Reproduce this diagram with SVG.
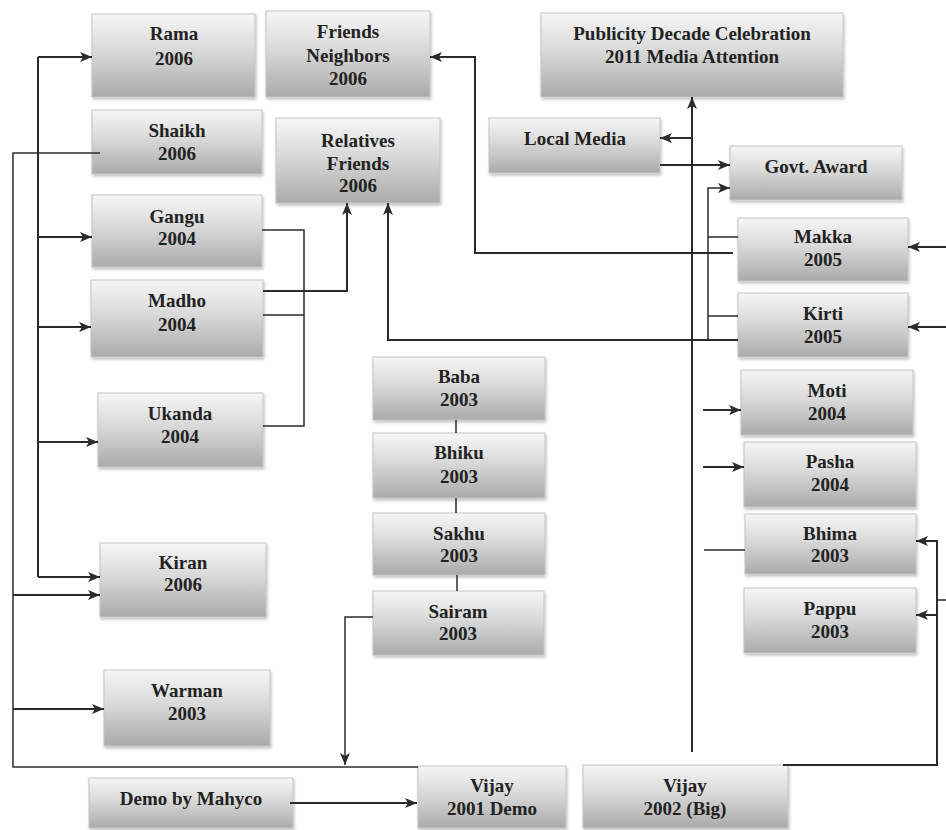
<svg xmlns="http://www.w3.org/2000/svg" width="946" height="830" viewBox="0 0 946 830">
<defs>
<linearGradient id="g" x1="0" y1="0" x2="0" y2="1">
<stop offset="0" stop-color="#f6f6f6"/>
<stop offset="0.45" stop-color="#d9d9d9"/>
<stop offset="1" stop-color="#aaaaaa"/>
</linearGradient>
<filter id="sh" x="-10%" y="-10%" width="120%" height="130%">
<feGaussianBlur in="SourceAlpha" stdDeviation="1.5"/>
<feOffset dx="1" dy="2" result="b"/>
<feComponentTransfer><feFuncA type="linear" slope="0.25"/></feComponentTransfer>
<feMerge><feMergeNode/><feMergeNode in="SourceGraphic"/></feMerge>
</filter>
<marker id="ah" markerUnits="userSpaceOnUse" markerWidth="12" markerHeight="10" refX="12" refY="5" orient="auto">
<path d="M0,0 L12,5 L0,10 L3,5 z" fill="#2b2b2b"/>
</marker>
</defs>
<style>
.n rect{fill:url(#g);stroke:#c4c4c4;stroke-width:1;filter:url(#sh)}
.n text{font-family:"Liberation Serif","Times New Roman",serif;font-weight:bold;font-size:19px;fill:#222222;text-anchor:middle}
.c path{fill:none;stroke:#2b2b2b;stroke-width:2}
.c .t{stroke-width:1.5}
.c .a{marker-end:url(#ah)}
</style>
<rect width="946" height="830" fill="#ffffff"/>
<g class="n" id="rama"><rect x="92" y="14" width="163" height="83"/><text x="174" y="40">Rama</text><text x="174" y="65">2006</text></g>
<g class="n" id="friends-neighbors"><rect x="266" y="11" width="164" height="86"/><text x="348" y="38">Friends</text><text x="348" y="62">Neighbors</text><text x="348" y="85">2006</text></g>
<g class="n" id="shaikh"><rect x="92" y="110" width="170" height="64"/><text x="177" y="137">Shaikh</text><text x="177" y="160">2006</text></g>
<g class="n" id="relatives-friends"><rect x="276" y="118" width="164" height="85"/><text x="358" y="147">Relatives</text><text x="358" y="170">Friends</text><text x="358" y="192">2006</text></g>
<g class="n" id="gangu"><rect x="92" y="195" width="170" height="72"/><text x="177" y="223">Gangu</text><text x="177" y="245">2004</text></g>
<g class="n" id="madho"><rect x="91" y="280" width="172" height="77"/><text x="177" y="307">Madho</text><text x="177" y="331">2004</text></g>
<g class="n" id="ukanda"><rect x="98" y="393" width="165" height="74"/><text x="180" y="420">Ukanda</text><text x="180" y="443">2004</text></g>
<g class="n" id="kiran"><rect x="100" y="543" width="166" height="74"/><text x="183" y="569">Kiran</text><text x="183" y="591">2006</text></g>
<g class="n" id="warman"><rect x="104" y="670" width="166" height="76"/><text x="187" y="697">Warman</text><text x="187" y="720">2003</text></g>
<g class="n" id="demo-mahyco"><rect x="89" y="778" width="204" height="50"/><text x="191" y="805">Demo by Mahyco</text></g>
<g class="n" id="vijay-2001"><rect x="418" y="766" width="148" height="62"/><text x="492" y="792">Vijay</text><text x="492" y="815">2001 Demo</text></g>
<g class="n" id="vijay-2002"><rect x="583" y="765" width="205" height="63"/><text x="685" y="792">Vijay</text><text x="685" y="815">2002 (Big)</text></g>
<g class="n" id="baba"><rect x="373" y="357" width="172" height="63"/><text x="459" y="383">Baba</text><text x="459" y="406">2003</text></g>
<g class="n" id="bhiku"><rect x="373" y="433" width="172" height="65"/><text x="459" y="459">Bhiku</text><text x="459" y="483">2003</text></g>
<g class="n" id="sakhu"><rect x="373" y="513" width="172" height="62"/><text x="459" y="540">Sakhu</text><text x="459" y="562">2003</text></g>
<g class="n" id="sairam"><rect x="373" y="591" width="171" height="64"/><text x="458" y="618">Sairam</text><text x="458" y="640">2003</text></g>
<g class="n" id="publicity"><rect x="541" y="13" width="302" height="84"/><text x="692" y="40">Publicity Decade Celebration</text><text x="692" y="63">2011 Media Attention</text></g>
<g class="n" id="local-media"><rect x="489" y="118" width="171" height="55"/><text x="575" y="145">Local Media</text></g>
<g class="n" id="govt-award"><rect x="730" y="146" width="172" height="54"/><text x="816" y="173">Govt. Award</text></g>
<g class="n" id="makka"><rect x="738" y="218" width="170" height="63"/><text x="823" y="243">Makka</text><text x="823" y="266">2005</text></g>
<g class="n" id="kirti"><rect x="738" y="293" width="170" height="64"/><text x="823" y="320">Kirti</text><text x="823" y="343">2005</text></g>
<g class="n" id="moti"><rect x="741" y="370" width="172" height="65"/><text x="827" y="397">Moti</text><text x="827" y="420">2004</text></g>
<g class="n" id="pasha"><rect x="744" y="442" width="172" height="65"/><text x="830" y="468">Pasha</text><text x="830" y="491">2004</text></g>
<g class="n" id="bhima"><rect x="745" y="514" width="171" height="60"/><text x="830" y="540">Bhima</text><text x="830" y="562">2003</text></g>
<g class="n" id="pappu"><rect x="744" y="588" width="172" height="65"/><text x="830" y="615">Pappu</text><text x="830" y="638">2003</text></g>
<g class="c" id="connectors">
<path d="M38,57 V577"/>
<path class="a" d="M38,57 H92"/>
<path class="a" d="M38,237 H92"/>
<path class="a" d="M38,327 H91"/>
<path class="a" d="M38,442 H98"/>
<path class="a" d="M38,577 H100"/>
<path class="t" d="M100,153 H13 V767 H418"/>
<path class="a" d="M13,595 H100"/>
<path class="a" d="M13,709 H104"/>
<path class="a t" d="M373,617 H345 V765"/>
<path class="a" d="M290,803 H417"/>
<path class="t" d="M456,420 V433 M456,498 V513 M457,575 V591"/>
<path class="t" d="M262,230 H304 V426 H263 M263,315 H304"/>
<path class="a" d="M263,291 H347 V203"/>
<path class="a" d="M738,340 H388 V203"/>
<path class="a" d="M733,253 H475 V57 H430"/>
<path class="a" d="M692,752 V97"/>
<path class="a" d="M692,138 H660"/>
<path class="a" d="M660,165 H730"/>
<path class="a t" d="M708,340 V188 H730"/>
<path class="t" d="M708,237 H738 M708,316 H738"/>
<path class="a" d="M946,247 H908"/>
<path class="a" d="M946,327 H908"/>
<path class="a" d="M703,410 H741"/>
<path class="a" d="M703,467 H744"/>
<path class="t" d="M704,550 H745"/>
<path class="a" d="M783,765 H937 V541 H916"/>
<path class="a" d="M937,615 H916"/>
<path class="t" d="M937,600 H946"/>
</g>
</svg>
